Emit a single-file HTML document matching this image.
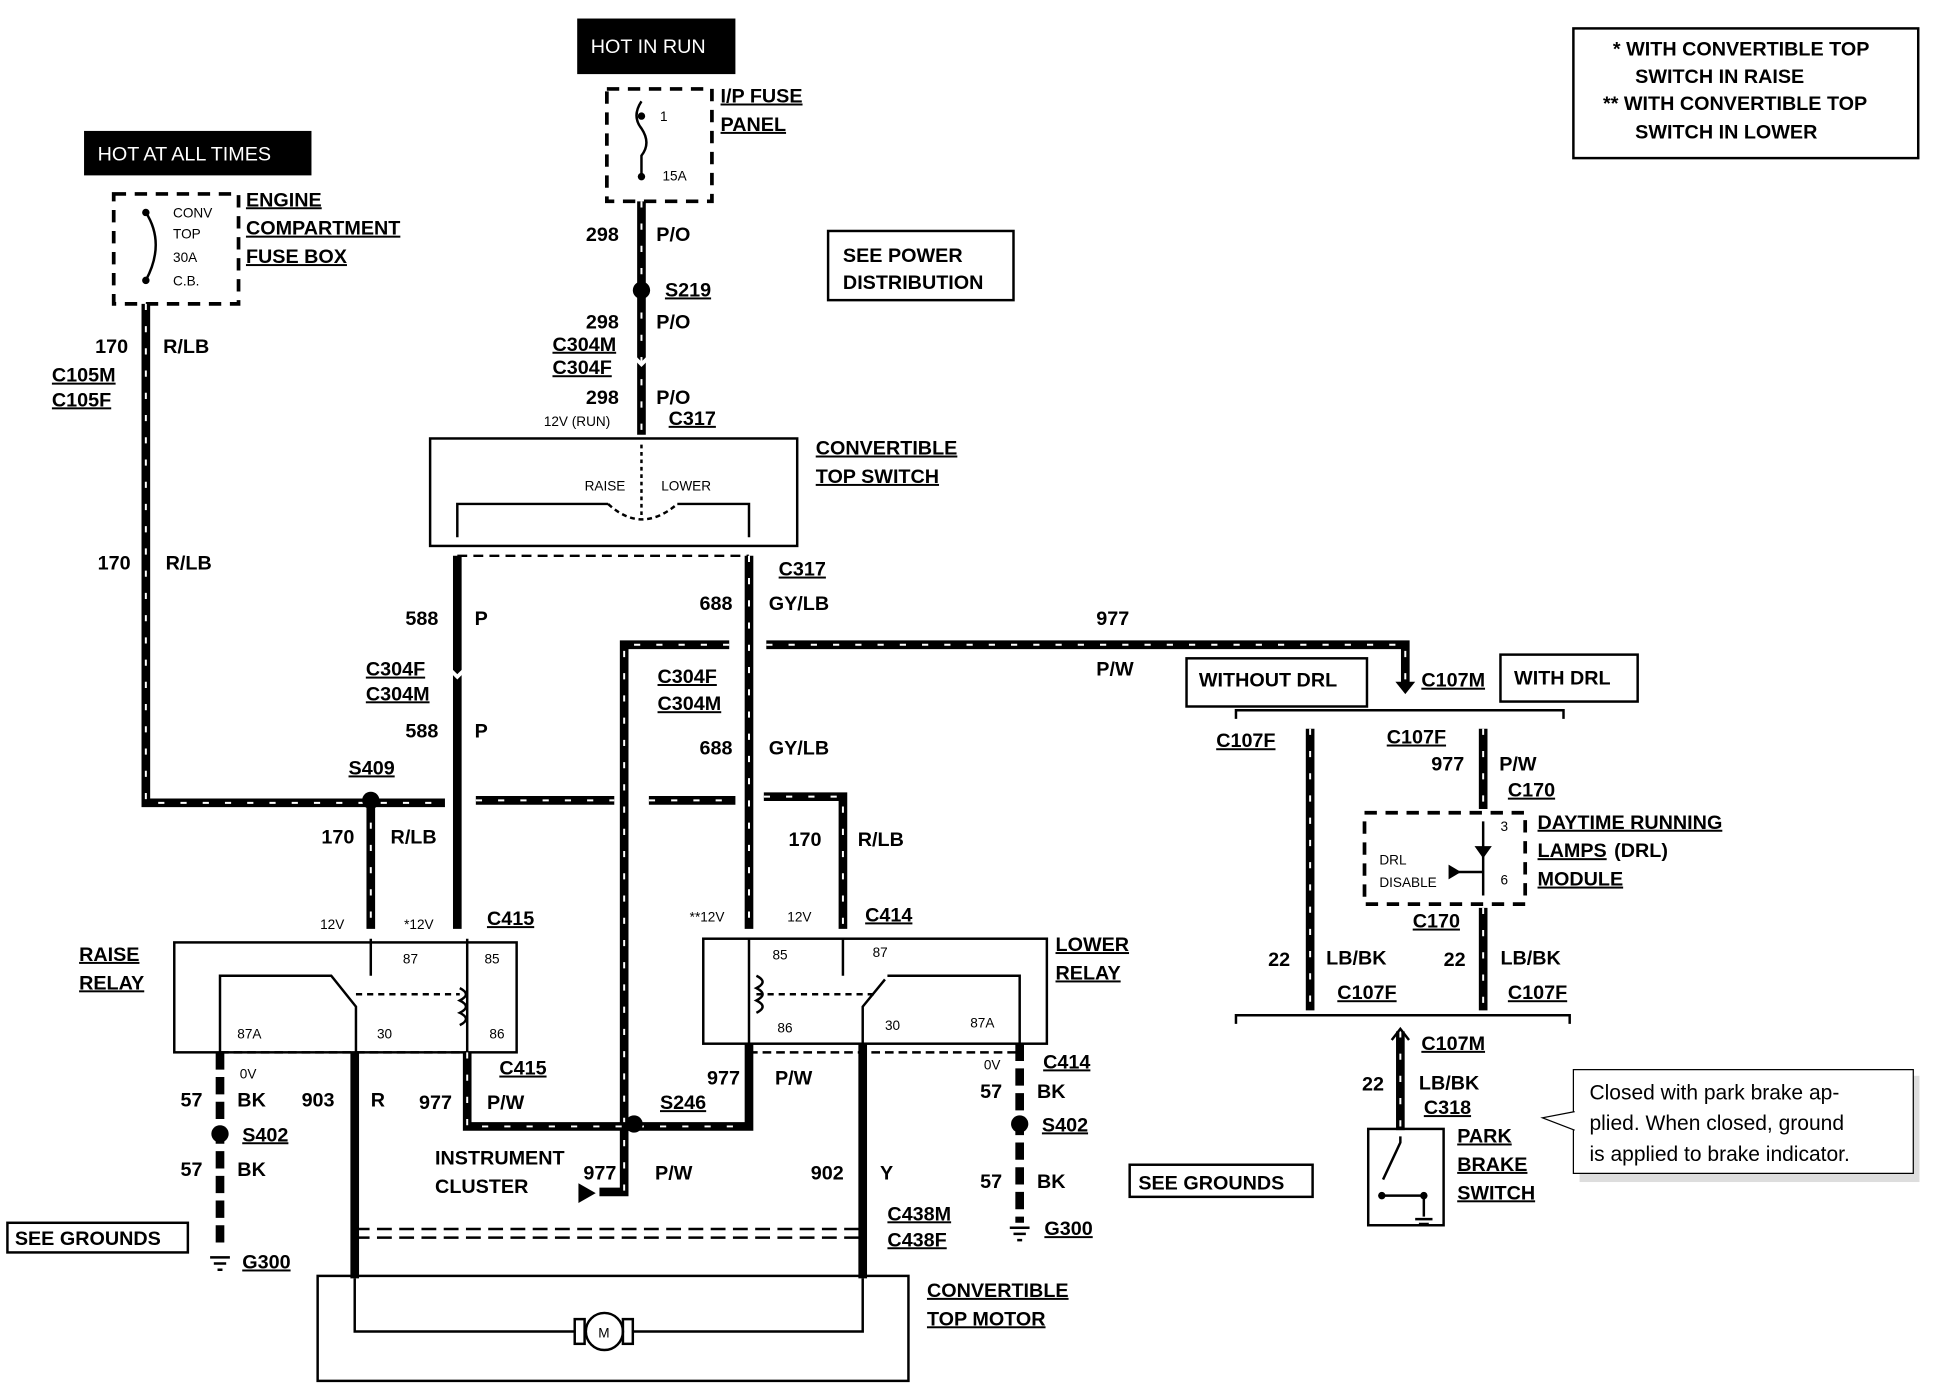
<!DOCTYPE html>
<html><head><meta charset="utf-8"><style>
html,body{margin:0;padding:0;background:#fff;}
svg{display:block;}
text{font-family:"Liberation Sans",sans-serif;font-weight:bold;font-size:16px;fill:#000;}
.s{font-size:11px;font-weight:normal;}
.u{text-decoration:underline;}
.w{stroke:#000;stroke-width:7;fill:none;}
.st{stroke:#fff;stroke-width:1.6;fill:none;stroke-dasharray:5 13;}
.dw{stroke:#000;stroke-width:7;fill:none;stroke-dasharray:14 6;}
.t{stroke:#000;stroke-width:2;fill:none;}
.d{stroke:#000;stroke-width:3;fill:none;stroke-dasharray:10 7;}
</style></head><body>
<svg width="1938" height="1392" viewBox="0 0 1568 1127" preserveAspectRatio="none" xmlns="http://www.w3.org/2000/svg">
<rect width="1568" height="1127" fill="#fff"/>
<rect x="467" y="15" width="128" height="45" fill="#000"/>
<text x="478" y="43" style="fill:#fff;font-weight:normal">HOT IN RUN</text>
<rect x="68" y="106" width="184" height="36" fill="#000"/>
<text x="79" y="130" style="fill:#fff;font-weight:normal">HOT AT ALL TIMES</text>
<rect x="1273" y="23" width="279" height="105" class="t"/>
<text x="1305" y="45">*  WITH CONVERTIBLE TOP</text>
<text x="1323" y="67">SWITCH IN RAISE</text>
<text x="1297" y="89">**  WITH CONVERTIBLE TOP</text>
<text x="1323" y="112">SWITCH IN LOWER</text>
<rect x="491" y="72" width="85" height="91" class="d"/>
<path d="M519 82 q-8 12 0 22 q8 12 0 22 v15" class="t"/>
<circle cx="519" cy="94" r="3"/><circle cx="519" cy="143" r="3"/>
<text x="534" y="98" class="s">1</text><text x="536" y="146" class="s">15A</text>
<text x="583" y="83" class="u">I/P FUSE</text><text x="583" y="106" class="u">PANEL</text>
<rect x="92" y="157" width="101" height="89" class="d"/>
<path d="M118 172 q16 25 0 55" class="t"/><circle cx="118" cy="172" r="3"/><circle cx="118" cy="227" r="3"/>
<text x="140" y="176" class="s">CONV</text><text x="140" y="193" class="s">TOP</text><text x="140" y="212" class="s">30A</text><text x="140" y="231" class="s">C.B.</text>
<text x="199" y="167" class="u">ENGINE</text><text x="199" y="190" class="u">COMPARTMENT</text><text x="199" y="213" class="u">FUSE BOX</text>
<rect x="670" y="187" width="150" height="56" class="t"/>
<text x="682" y="212">SEE POWER</text><text x="682" y="234">DISTRIBUTION</text>
<path d="M519 163 V352" class="w"/><path d="M519 163 V352" class="st"/>
<circle cx="519" cy="235" r="7"/>
<path d="M511 287 l8 8 l8 -8" stroke="#fff" stroke-width="3" fill="none"/>
<text x="474" y="195">298</text><text x="531" y="195">P/O</text>
<text x="538" y="240" class="u">S219</text>
<text x="474" y="266">298</text><text x="531" y="266">P/O</text>
<text x="447" y="284" class="u">C304M</text><text x="447" y="303" class="u">C304F</text>
<text x="474" y="327">298</text><text x="531" y="327">P/O</text>
<text x="440" y="345" class="s">12V (RUN)</text><text x="541" y="344" class="u">C317</text>
<rect x="348" y="355" width="297" height="87" class="t"/>
<path d="M519 360 v60" class="t" stroke-dasharray="3 3"/>
<path d="M370 435 V408 H492 M548 408 H606 V435" class="t"/>
<path d="M492 408 q27 25 56 0" class="t" stroke-dasharray="4 3"/>
<text x="473" y="397" class="s">RAISE</text><text x="535" y="397" class="s">LOWER</text>
<text x="660" y="368" class="u">CONVERTIBLE</text><text x="660" y="391" class="u">TOP SWITCH</text>
<path d="M370 450 h236" class="t" stroke-dasharray="8 5"/>
<path d="M118 246 V650 H360 M385 648 H497 M525 648 H595 M618 645 H682 V752" class="w"/>
<path d="M118 246 V650 H360 M385 648 H497 M525 648 H595 M618 645 H682 V752" class="st"/>
<path d="M300 648 V752" class="w"/><path d="M300 648 V752" class="st"/>
<circle cx="300" cy="648" r="7"/>
<text x="77" y="286">170</text><text x="132" y="286">R/LB</text>
<text x="42" y="309" class="u">C105M</text><text x="42" y="329" class="u">C105F</text>
<text x="79" y="461">170</text><text x="134" y="461">R/LB</text>
<text x="282" y="627" class="u">S409</text>
<text x="260" y="683">170</text><text x="316" y="683">R/LB</text>
<text x="638" y="685">170</text><text x="694" y="685">R/LB</text>
<path d="M370 450 V752" class="w"/>
<path d="M362 540 l8 8 l8 -8" stroke="#fff" stroke-width="3" fill="none"/>
<text x="328" y="506">588</text><text x="384" y="506">P</text>
<text x="296" y="547" class="u">C304F</text><text x="296" y="567" class="u">C304M</text>
<text x="328" y="597">588</text><text x="384" y="597">P</text>
<path d="M606 450 V752" class="w"/><path d="M606 450 V752" class="st"/>
<text x="630" y="466" class="u">C317</text>
<text x="566" y="494">688</text><text x="622" y="494">GY/LB</text>
<text x="532" y="553" class="u">C304F</text><text x="532" y="575" class="u">C304M</text>
<text x="566" y="611">688</text><text x="622" y="611">GY/LB</text>
<path d="M620 522 H1137 V555 M590 522 H505 V965 H485" class="w"/>
<path d="M620 522 H1137 V555 M590 522 H505 V965" class="st"/>
<path d="M1129 552 h16 l-8 10z"/>
<path d="M468 958 v16 l14 -8z"/>
<text x="887" y="506">977</text><text x="887" y="547">P/W</text>
<text x="1150" y="556" class="u">C107M</text>
<rect x="141" y="763" width="277" height="89" class="t"/>
<rect x="569" y="760" width="278" height="85" class="t"/>
<text x="64" y="778" class="u">RAISE</text><text x="64" y="801" class="u">RELAY</text>
<text x="854" y="770" class="u">LOWER</text><text x="854" y="793" class="u">RELAY</text>
<path d="M178 852 V790 H268 l20 25 V852 M300 760 V790 M378 760 V852" class="t"/>
<path d="M372 800 q10 5 0 10 q10 5 0 10 q10 5 0 10" class="t"/>
<path d="M606 760 V845 M682 760 V790 M698 845 V815 l18 -22 M718 790 H825 V845" class="t"/>
<path d="M612 790 q10 5 0 10 q10 5 0 10 q10 5 0 10" class="t"/>
<path d="M288 805 H372 M612 805 H708" class="t" stroke-dasharray="5 4"/>
<text x="326" y="780" class="s">87</text><text x="392" y="780" class="s">85</text>
<text x="192" y="841" class="s">87A</text><text x="305" y="841" class="s">30</text><text x="396" y="841" class="s">86</text>
<text x="625" y="777" class="s">85</text><text x="706" y="775" class="s">87</text>
<text x="629" y="836" class="s">86</text><text x="716" y="834" class="s">30</text><text x="785" y="832" class="s">87A</text>
<text x="259" y="752" class="s">12V</text><text x="327" y="752" class="s">*12V</text><text x="394" y="749" class="u">C415</text>
<text x="558" y="746" class="s">**12V</text><text x="637" y="746" class="s">12V</text><text x="700" y="746" class="u">C414</text>
<path d="M178 852 H378 M606 852 H825" class="t" stroke-dasharray="7 4"/>
<path d="M178 852 V1010" class="dw"/>
<circle cx="178" cy="918" r="7"/>
<path d="M287 852 V1035 M378 852 V912 H606 V845 M698 845 V1035" class="w"/>
<path d="M378 852 V912 H606" class="st"/>
<circle cx="513" cy="910" r="7"/>
<path d="M825 845 V990" class="dw"/><circle cx="825" cy="910" r="7"/>
<path d="M170 1018 h16 M173 1023 h10 M176 1028 h4" class="t"/>
<path d="M817 994 h16 M820 999 h10 M823 1004 h4" class="t"/>
<text x="194" y="873" class="s">0V</text><text x="146" y="896">57</text><text x="192" y="896">BK</text>
<text x="196" y="924" class="u">S402</text>
<text x="146" y="952">57</text><text x="192" y="952">BK</text>
<text x="196" y="1027" class="u">G300</text>
<text x="244" y="896">903</text><text x="300" y="896">R</text>
<text x="339" y="898">977</text><text x="394" y="898">P/W</text>
<text x="404" y="870" class="u">C415</text>
<text x="534" y="898" class="u">S246</text>
<text x="352" y="943">INSTRUMENT</text><text x="352" y="966">CLUSTER</text>
<text x="472" y="955">977</text><text x="530" y="955">P/W</text>
<text x="572" y="878">977</text><text x="627" y="878">P/W</text>
<text x="656" y="955">902</text><text x="712" y="955">Y</text>
<text x="718" y="988" class="u">C438M</text><text x="718" y="1009" class="u">C438F</text>
<text x="796" y="866" class="s">0V</text><text x="844" y="865" class="u">C414</text>
<text x="793" y="889">57</text><text x="839" y="889">BK</text>
<text x="843" y="916" class="u">S402</text>
<text x="793" y="962">57</text><text x="839" y="962">BK</text>
<text x="845" y="1000" class="u">G300</text>
<rect x="6" y="990" width="146" height="24" class="t"/><text x="12" y="1008">SEE GROUNDS</text>
<rect x="914" y="943" width="148" height="26" class="t"/><text x="921" y="963">SEE GROUNDS</text>
<path d="M287 995 H698 M287 1002 H698" class="t" stroke-dasharray="12 6"/>
<rect x="257" y="1033" width="478" height="85" class="t"/>
<path d="M287 1035 V1078 H465 M512 1078 H698 V1035" class="t"/>
<rect x="465" y="1068" width="8" height="20" class="t"/><rect x="504" y="1068" width="8" height="20" class="t"/>
<circle cx="489" cy="1078" r="15" class="t"/><text x="484" y="1083" class="s">M</text>
<text x="750" y="1050" class="u">CONVERTIBLE</text><text x="750" y="1073" class="u">TOP MOTOR</text>
<rect x="960" y="533" width="146" height="39" class="t"/><text x="970" y="556">WITHOUT DRL</text>
<rect x="1214" y="530" width="111" height="38" class="t"/><text x="1225" y="554">WITH DRL</text>
<path d="M1000 582 V575 H1265 V582 M1000 829 V822 H1270 V829" class="t" stroke-width="3"/>
<path d="M1060 590 V818" class="w"/><path d="M1060 590 V818" class="st"/>
<path d="M1200 590 V655 M1200 735 V818" class="w"/><path d="M1200 590 V655 M1200 735 V818" class="st"/>
<path d="M1133 835 V915" class="w"/><path d="M1133 835 V915" class="st"/>
<path d="M1126 842 l7 -9 l7 9" class="t" stroke-width="3"/>
<text x="984" y="605" class="u">C107F</text><text x="1122" y="602" class="u">C107F</text>
<text x="1158" y="624">977</text><text x="1213" y="624">P/W</text>
<text x="1220" y="645" class="u">C170</text>
<rect x="1104" y="658" width="130" height="74" class="d"/>
<path d="M1200 665 V725 M1174 706 H1200" class="t"/><path d="M1193 685 h14 l-7 10z"/><path d="M1172 700 v12 l10 -6z"/>
<text x="1214" y="673" class="s">3</text><text x="1214" y="716" class="s">6</text>
<text x="1116" y="700" class="s">DRL</text><text x="1116" y="718" class="s">DISABLE</text>
<text x="1244" y="671" class="u">DAYTIME RUNNING</text><text x="1244" y="694" class="u">LAMPS</text><text x="1306" y="694">(DRL)</text><text x="1244" y="717" class="u">MODULE</text>
<text x="1143" y="751" class="u">C170</text>
<text x="1026" y="782">22</text><text x="1073" y="781">LB/BK</text>
<text x="1168" y="782">22</text><text x="1214" y="781">LB/BK</text>
<text x="1082" y="809" class="u">C107F</text><text x="1220" y="809" class="u">C107F</text>
<text x="1150" y="850" class="u">C107M</text>
<text x="1102" y="883">22</text><text x="1148" y="882">LB/BK</text><text x="1152" y="902" class="u">C318</text>
<rect x="1107" y="914" width="61" height="78" class="t"/>
<path d="M1133 920 V925 l-14 30 M1118 968 H1152 V985" class="t"/>
<circle cx="1118" cy="968" r="3"/><circle cx="1152" cy="968" r="3"/>
<path d="M1145 987 h14 M1148 991 h8" class="t"/>
<text x="1179" y="925" class="u">PARK</text><text x="1179" y="948" class="u">BRAKE</text><text x="1179" y="971" class="u">SWITCH</text>
<rect x="1278" y="871" width="275" height="86" style="fill:#ddd"/>
<rect x="1273" y="866" width="275" height="84" style="fill:#fff;stroke:#000;stroke-width:1"/>
<path d="M1274 900 l-26 5 l26 10" style="fill:#fff;stroke:#000;stroke-width:1"/>
<text x="1286" y="890" style="font-weight:normal;font-size:17px">Closed with park brake ap-</text>
<text x="1286" y="915" style="font-weight:normal;font-size:17px">plied.  When closed, ground</text>
<text x="1286" y="940" style="font-weight:normal;font-size:17px">is applied to brake indicator.</text>
</svg>
</body></html>
